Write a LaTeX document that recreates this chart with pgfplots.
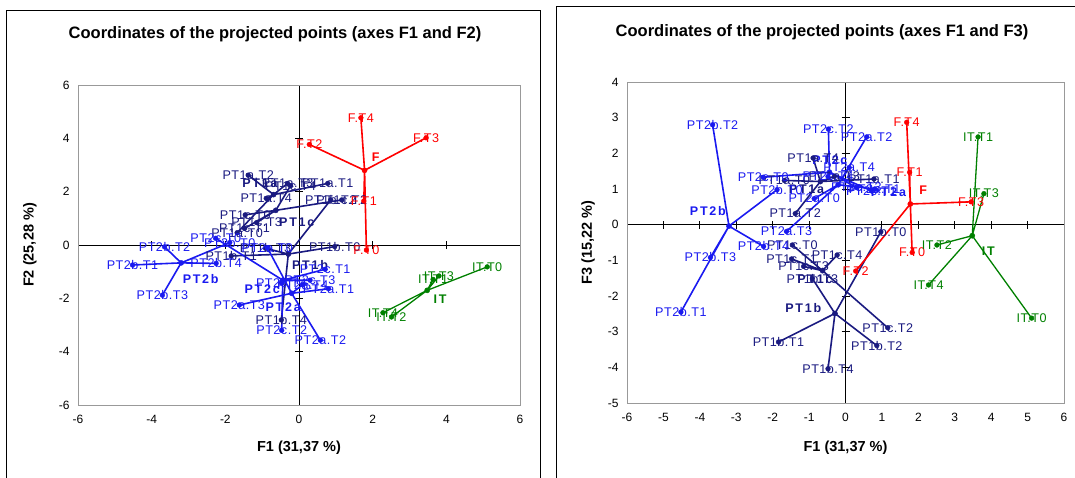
\documentclass[border=0pt]{standalone}
\usepackage{fontspec}
\setmainfont{Liberation Sans}
\newfontfamily\lblfamily[LetterSpace=4]{Liberation Sans}
\newfontfamily\grpfamily[LetterSpace=14]{Liberation Sans}
\usepackage{pgfplots}
\pgfplotsset{compat=1.18}
\definecolor{ptone}{HTML}{1A1A80}
\definecolor{pttwo}{HTML}{1A1AF0}
\definecolor{fred}{HTML}{FF0000}
\definecolor{itgreen}{HTML}{008000}
\newcommand{\lbl}{\lblfamily\fontsize{12.6}{14}\selectfont}
\newcommand{\grp}{\grpfamily\bfseries\fontsize{12.5}{14}\selectfont}
\pgfplotsset{
  base/.style={scale only axis, anchor=south west, clip=false,
    axis line style={draw=black!40, line width=0.9pt},
    major tick style={draw=none},
    tick label style={font=\fontsize{12}{14}\selectfont},
    /pgf/number format/assume math mode=true,
    label style={font=\bfseries\fontsize{14.5}{16}\selectfont},
    yticklabel style={xshift=-5pt},
    xticklabel style={yshift=-7pt},
  },
  zero/.style={scale only axis, anchor=south west,
    axis lines=center, axis line style={-, black, line width=0.9pt},
    every inner x axis line/.append style={-}, every inner y axis line/.append style={-},
    xticklabels={}, yticklabels={}, tick align=center, major tick length=8pt,
    major tick style={black, line width=0.9pt}},
  spoke/.style={line width=1.6pt, line join=round, mark=none},
  cen/.style={only marks, mark=*, mark size=2.6pt},
  pts/.style={only marks, mark=*, mark size=2.4pt, nodes near coords, point meta=explicit symbolic,
    nodes near coords align=center, every node near coord/.append style={font=\lbl, inner sep=0pt}},
}
\begin{document}
\begin{tikzpicture}
\useasboundingbox (0,0) rectangle (1075pt,477pt);
\clip (0,0) rectangle (1075pt,477pt);
% chart area frames
\draw[black, line width=1pt] (6pt,-5pt) rectangle (540pt,466pt);
\draw[black, line width=1pt] (556pt,-5pt) rectangle (1090pt,470pt);
\node[font=\bfseries\fontsize{16.5}{18}\selectfont] at (275pt,443pt) {Coordinates of the projected points (axes F1 and F2)};
\node[font=\bfseries\fontsize{16.5}{18}\selectfont] at (822pt,445pt) {Coordinates of the projected points (axes F1 and F3)};

% ================= LEFT: F1 / F2 =================
\begin{axis}[zero, at={(78pt,72pt)}, width=442pt, height=320pt,
  xmin=-6, xmax=6, ymin=-6, ymax=6,
  xtick={-6,-4,-2,2,4,6}, ytick={-6,-4,-2,2,4,6}]
\end{axis}
\begin{axis}[base, at={(78pt,72pt)}, width=442pt, height=320pt,
  xmin=-6, xmax=6, ymin=-6, ymax=6,
  xtick={-6,-4,-2,0,2,4,6}, ytick={-6,-4,-2,0,2,4,6},
  xlabel={F1 (31,37 \%)}, ylabel={F2 (25,28 \%)},
  xlabel style={at={(axis description cs:0.5,-0.135)}, anchor=center},
  ylabel style={at={(axis description cs:-0.109,0.5)}, anchor=center}]
% PT1a
\addplot[ptone, spoke] coordinates {(-0.69,1.89) (-1.68,0.46) (-0.69,1.89) (0.78,2.31) (-0.69,1.89) (-1.38,2.62) (-0.69,1.89) (-0.31,2.31) (-0.69,1.89) (-0.89,1.75)};
% PT1b
\addplot[ptone, spoke] coordinates {(-0.29,-0.34) (0.97,-0.06) (-0.29,-0.34) (-1.84,-0.41) (-0.29,-0.34) (0.86,1.69) (-0.29,-0.34) (-0.91,-0.12) (-0.29,-0.34) (-0.48,-2.81)};
% PT1c
\addplot[ptone, spoke] coordinates {(-0.63,1.30) (-1.46,1.13) (-0.63,1.30) (-1.48,0.62) (-0.63,1.30) (1.16,1.69) (-0.63,1.30) (-1.15,0.84) (-0.63,1.30) (-0.23,2.22)};
% PT2a
\addplot[pttwo, spoke] coordinates {(-0.20,-1.81) (-0.86,-0.10) (-0.20,-1.81) (0.80,-1.64) (-0.20,-1.81) (0.58,-3.57) (-0.20,-1.81) (-1.62,-2.25) (-0.20,-1.81) (0.10,-1.49)};
% PT2b
\addplot[pttwo, spoke] coordinates {(-3.20,-0.67) (-1.88,0.09) (-3.20,-0.67) (-4.52,-0.75) (-3.20,-0.67) (-3.65,-0.07) (-3.20,-0.67) (-3.71,-1.88) (-3.20,-0.67) (-2.25,-0.69)};
% PT2c
\addplot[pttwo, spoke] coordinates {(-0.44,-1.32) (-2.26,0.25) (-0.44,-1.32) (0.71,-0.91) (-0.44,-1.32) (-0.47,-3.20) (-0.44,-1.32) (0.30,-1.32) (-0.44,-1.32) (-0.48,-1.42)};
% F
\addplot[fred, spoke] coordinates {(1.78,2.80) (1.83,-0.19) (1.78,2.80) (1.76,1.65) (1.78,2.80) (0.28,3.77) (1.78,2.80) (3.45,4.02) (1.78,2.80) (1.68,4.77)};
% IT
\addplot[itgreen, spoke, line width=1.3pt] coordinates {(3.48,-1.70) (5.11,-0.82) (3.48,-1.70) (3.64,-1.29) (3.48,-1.70) (2.51,-2.70) (3.48,-1.70) (3.80,-1.16) (3.48,-1.70) (2.28,-2.54)};
% centroids
\addplot[ptone, cen] coordinates {(-0.69,1.89) (-0.29,-0.34) (-0.63,1.30)};
\addplot[pttwo, cen] coordinates {(-0.20,-1.81) (-3.20,-0.67) (-0.44,-1.32)};
\addplot[fred, cen] coordinates {(1.78,2.80)};
\addplot[itgreen, cen] coordinates {(3.48,-1.70)};
% points with labels
\addplot[ptone, pts] coordinates {(-1.68,0.46) [PT1a.T0] (0.78,2.31) [PT1a.T1] (-1.38,2.62) [PT1a.T2] (-0.31,2.31) [PT1a.T3] (-0.89,1.75) [PT1a.T4]};
\addplot[ptone, pts] coordinates {(0.97,-0.06) [PT1b.T0] (-1.84,-0.41) [PT1b.T1] (0.86,1.69) [PT1b.T2] (-0.91,-0.12) [PT1b.T3] (-0.48,-2.81) [PT1b.T4]};
\addplot[ptone, pts] coordinates {(-1.46,1.13) [PT1c.T0] (-1.48,0.62) [PT1c.T1] (1.16,1.69) [PT1c.T2] (-1.15,0.84) [PT1c.T3] (-0.23,2.22) [PT1c.T4]};
\addplot[pttwo, pts] coordinates {(-0.86,-0.10) [PT2a.T0] (0.80,-1.64) [PT2a.T1] (0.58,-3.57) [PT2a.T2] (-1.62,-2.25) [PT2a.T3] (0.10,-1.49) [PT2a.T4]};
\addplot[pttwo, pts] coordinates {(-1.88,0.09) [PT2b.T0] (-4.52,-0.75) [PT2b.T1] (-3.65,-0.07) [PT2b.T2] (-3.71,-1.88) [PT2b.T3] (-2.25,-0.69) [PT2b.T4]};
\addplot[pttwo, pts] coordinates {(-2.26,0.25) [PT2c.T0] (0.71,-0.91) [PT2c.T1] (-0.47,-3.20) [PT2c.T2] (0.30,-1.32) [PT2c.T3] (-0.48,-1.42) [PT2c.T4]};
\addplot[fred, pts] coordinates {(1.83,-0.19) [F.T0] (1.76,1.65) [F.T1] (0.28,3.77) [F.T2] (3.45,4.02) [F.T3] (1.68,4.77) [F.T4]};
\addplot[itgreen, pts] coordinates {(5.11,-0.82) [IT.T0] (3.64,-1.29) [IT.T1] (2.51,-2.70) [IT.T2] (3.80,-1.16) [IT.T3] (2.28,-2.54) [IT.T4]};
% group labels
\node[font=\grp, text=ptone] at (axis cs:-1.06,2.33) {PT1a};
\node[font=\grp, text=ptone] at (axis cs:0.30,-0.75) {PT1b};
\node[font=\grp, text=ptone] at (axis cs:-0.06,0.87) {PT1c};
\node[font=\grp, text=pttwo] at (axis cs:-0.43,-2.35) {PT2a};
\node[font=\grp, text=pttwo] at (axis cs:-2.67,-1.28) {PT2b};
\node[font=\grp, text=pttwo] at (axis cs:-1.00,-1.66) {PT2c};
\node[font=\grp, text=fred] at (axis cs:2.08,3.31) {F};
\node[font=\grp, text=itgreen] at (axis cs:3.83,-2.02) {IT};
\end{axis}

% ================= RIGHT: F1 / F3 =================
\begin{axis}[zero, at={(627pt,74pt)}, width=437pt, height=321pt,
  xmin=-6, xmax=6, ymin=-5, ymax=4,
  xtick={-6,-5,-4,-3,-2,-1,1,2,3,4,5,6}, ytick={-5,-4,-3,-2,-1,1,2,3,4}]
\end{axis}
\begin{axis}[base, at={(627pt,74pt)}, width=437pt, height=321pt,
  xmin=-6, xmax=6, ymin=-5, ymax=4,
  xtick={-6,-5,...,6}, ytick={-5,-4,...,4},
  xlabel={F1 (31,37 \%)}, ylabel={F3 (15,22 \%)},
  xlabel style={at={(axis description cs:0.5,-0.14)}, anchor=center},
  ylabel style={at={(axis description cs:-0.089,0.5)}, anchor=center}]
% PT1a
\addplot[ptone, spoke] coordinates {(-0.69,1.21) (-1.68,1.24) (-0.69,1.21) (0.78,1.28) (-0.69,1.21) (-1.38,0.31) (-0.69,1.21) (-0.31,1.35) (-0.69,1.21) (-0.89,1.87)};
% PT1b
\addplot[ptone, spoke] coordinates {(-0.29,-2.49) (0.97,-0.20) (-0.29,-2.49) (-1.84,-3.29) (-0.29,-2.49) (0.86,-3.39) (-0.29,-2.49) (-0.91,-1.51) (-0.29,-2.49) (-0.48,-4.04)};
% PT1c
\addplot[ptone, spoke] coordinates {(-0.63,-1.29) (-1.46,-0.57) (-0.63,-1.29) (-1.48,-0.96) (-0.63,-1.29) (1.16,-2.89) (-0.63,-1.29) (-1.15,-1.17) (-0.63,-1.29) (-0.23,-0.85)};
% PT2a
\addplot[pttwo, spoke] coordinates {(-0.20,1.12) (-0.86,0.73) (-0.20,1.12) (0.80,1.00) (-0.20,1.12) (0.58,2.46) (-0.20,1.12) (-1.62,-0.19) (-0.20,1.12) (0.10,1.60)};
% PT2b
\addplot[pttwo, spoke] coordinates {(-3.20,-0.04) (-1.88,0.98) (-3.20,-0.04) (-4.52,-2.45) (-3.20,-0.04) (-3.65,2.80) (-3.20,-0.04) (-3.71,-0.92) (-3.20,-0.04) (-2.25,-0.61)};
% PT2c
\addplot[pttwo, spoke] coordinates {(-0.44,1.47) (-2.26,1.33) (-0.44,1.47) (0.71,0.95) (-0.44,1.47) (-0.47,2.68) (-0.44,1.47) (0.30,1.04) (-0.44,1.47) (-0.48,1.35)};
% F
\addplot[fred, spoke] coordinates {(1.78,0.58) (1.83,-0.78) (1.78,0.58) (1.76,1.47) (1.78,0.58) (0.28,-1.30) (1.78,0.58) (3.45,0.64) (1.78,0.58) (1.68,2.87)};
% IT
\addplot[itgreen, spoke, line width=1.3pt] coordinates {(3.48,-0.31) (5.11,-2.62) (3.48,-0.31) (3.64,2.46) (3.48,-0.31) (2.51,-0.57) (3.48,-0.31) (3.80,0.87) (3.48,-0.31) (2.28,-1.69)};
% centroids
\addplot[ptone, cen] coordinates {(-0.69,1.21) (-0.29,-2.49) (-0.63,-1.29)};
\addplot[pttwo, cen] coordinates {(-0.20,1.12) (-3.20,-0.04) (-0.44,1.47)};
\addplot[fred, cen] coordinates {(1.78,0.58)};
\addplot[itgreen, cen] coordinates {(3.48,-0.31)};
% points with labels
\addplot[ptone, pts] coordinates {(-1.68,1.24) [PT1a.T0] (0.78,1.28) [PT1a.T1] (-1.38,0.31) [PT1a.T2] (-0.31,1.35) [PT1a.T3] (-0.89,1.87) [PT1a.T4]};
\addplot[ptone, pts] coordinates {(0.97,-0.20) [PT1b.T0] (-1.84,-3.29) [PT1b.T1] (0.86,-3.39) [PT1b.T2] (-0.91,-1.51) [PT1b.T3] (-0.48,-4.04) [PT1b.T4]};
\addplot[ptone, pts] coordinates {(-1.46,-0.57) [PT1c.T0] (-1.48,-0.96) [PT1c.T1] (1.16,-2.89) [PT1c.T2] (-1.15,-1.17) [PT1c.T3] (-0.23,-0.85) [PT1c.T4]};
\addplot[pttwo, pts] coordinates {(-0.86,0.73) [PT2a.T0] (0.80,1.00) [PT2a.T1] (0.58,2.46) [PT2a.T2] (-1.62,-0.19) [PT2a.T3] (0.10,1.60) [PT2a.T4]};
\addplot[pttwo, pts] coordinates {(-1.88,0.98) [PT2b.T0] (-4.52,-2.45) [PT2b.T1] (-3.65,2.80) [PT2b.T2] (-3.71,-0.92) [PT2b.T3] (-2.25,-0.61) [PT2b.T4]};
\addplot[pttwo, pts] coordinates {(-2.26,1.33) [PT2c.T0] (0.71,0.95) [PT2c.T1] (-0.47,2.68) [PT2c.T2] (0.30,1.04) [PT2c.T3] (-0.48,1.35) [PT2c.T4]};
\addplot[fred, pts] coordinates {(1.83,-0.78) [F.T0] (1.76,1.47) [F.T1] (0.28,-1.30) [F.T2] (3.45,0.64) [F.T3] (1.68,2.87) [F.T4]};
\addplot[itgreen, pts] coordinates {(5.11,-2.62) [IT.T0] (3.64,2.46) [IT.T1] (2.51,-0.57) [IT.T2] (3.80,0.87) [IT.T3] (2.28,-1.69) [IT.T4]};
% group labels
\node[font=\grp, text=ptone] at (axis cs:-1.07,0.98) {PT1a};
\node[font=\grp, text=ptone] at (axis cs:-1.16,-2.33) {PT1b};
\node[font=\grp, text=ptone] at (axis cs:-0.84,-1.52) {PT1c};
\node[font=\grp, text=pttwo] at (axis cs:1.18,0.90) {PT2a};
\node[font=\grp, text=pttwo] at (axis cs:-3.78,0.37) {PT2b};
\node[font=\grp, text=pttwo] at (axis cs:-0.43,1.82) {PT2c};
\node[font=\grp, text=fred] at (axis cs:2.13,0.98) {F};
\node[font=\grp, text=itgreen] at (axis cs:3.92,-0.75) {IT};
\end{axis}
\end{tikzpicture}
\end{document}
